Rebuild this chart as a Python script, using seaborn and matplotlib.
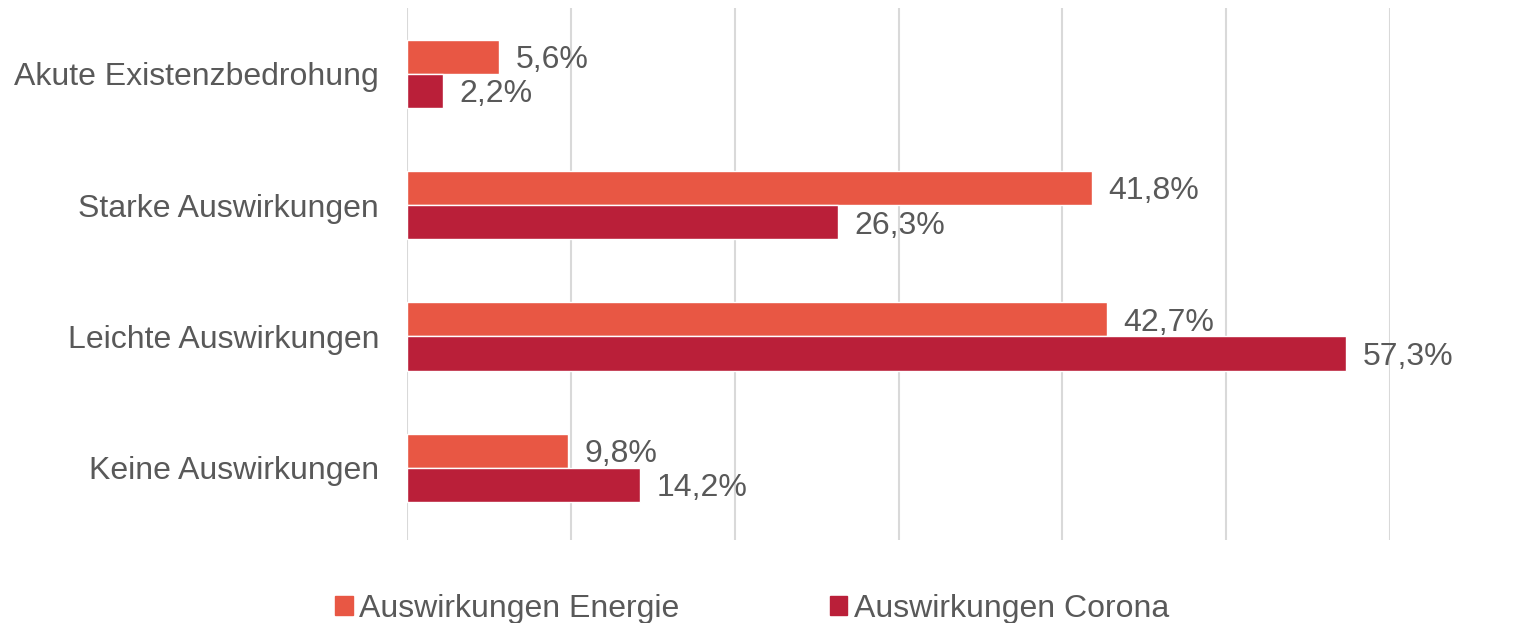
import pandas as pd
import numpy as np
import matplotlib
matplotlib.use("Agg")
import matplotlib.pyplot as plt
import seaborn as sns

# data
categories = ["Akute Existenzbedrohung", "Starke Auswirkungen",
              "Leichte Auswirkungen", "Keine Auswirkungen"]
energie = [5.6, 41.8, 42.7, 9.8]
corona = [2.2, 26.3, 57.3, 14.2]
series = ["Auswirkungen Energie", "Auswirkungen Corona"]
colors = ["#E85744", "#BA1F39"]

df = pd.DataFrame({
    "kategorie": categories * 2,
    "wert": energie + corona,
    "serie": [series[0]] * 4 + [series[1]] * 4,
})

sns.set_style("white")
plt.rcParams["font.family"] = ["Liberation Sans", "DejaVu Sans"]
text_col = "#595959"

fig = plt.figure(figsize=(15.35, 6.23), dpi=100)
ax = fig.add_axes([407 / 1535, 1 - 540 / 623, (1390 - 407) / 1535, 532 / 623])

sns.barplot(data=df, x="wert", y="kategorie", hue="serie", order=categories,
            hue_order=series, palette=colors, width=0.52, orient="h",
            saturation=1, ax=ax, legend=False)

for cont in ax.containers:
    labels = [f"{v:.1f}%".replace(".", ",") for v in cont.datavalues]
    txts = ax.bar_label(cont, labels=labels, padding=12, fontsize=23, color=text_col)
    for t in txts:
        t.xyann = (12, -2.5)  # nudge a bit down like the original

ax.set_xlim(0, 60)
ax.set_ylim(3.55, -0.5)
ax.set_xticks(np.arange(0, 61, 10))
ax.set_xticklabels([])
ax.xaxis.grid(True, color="#D9D9D9", linewidth=1.5)
ax.set_axisbelow(True)
ax.tick_params(axis="both", length=0)
ax.tick_params(axis="y", labelsize=23, labelcolor=text_col, pad=20)
ax.set_xlabel("")
ax.set_ylabel("")
for s in ax.spines.values():
    s.set_visible(False)

handles = [plt.Rectangle((0, 0), 1, 1, color=c) for c in colors]
leg = fig.legend(handles, series, loc="lower center", bbox_to_anchor=(0.490, -0.047),
                 ncol=2, frameon=False, fontsize=23, handlelength=0.55,
                 handleheight=0.55, handletextpad=0.2, columnspacing=4.7)
for t in leg.get_texts():
    t.set_color(text_col)

fig.savefig("out.png", dpi=100)
